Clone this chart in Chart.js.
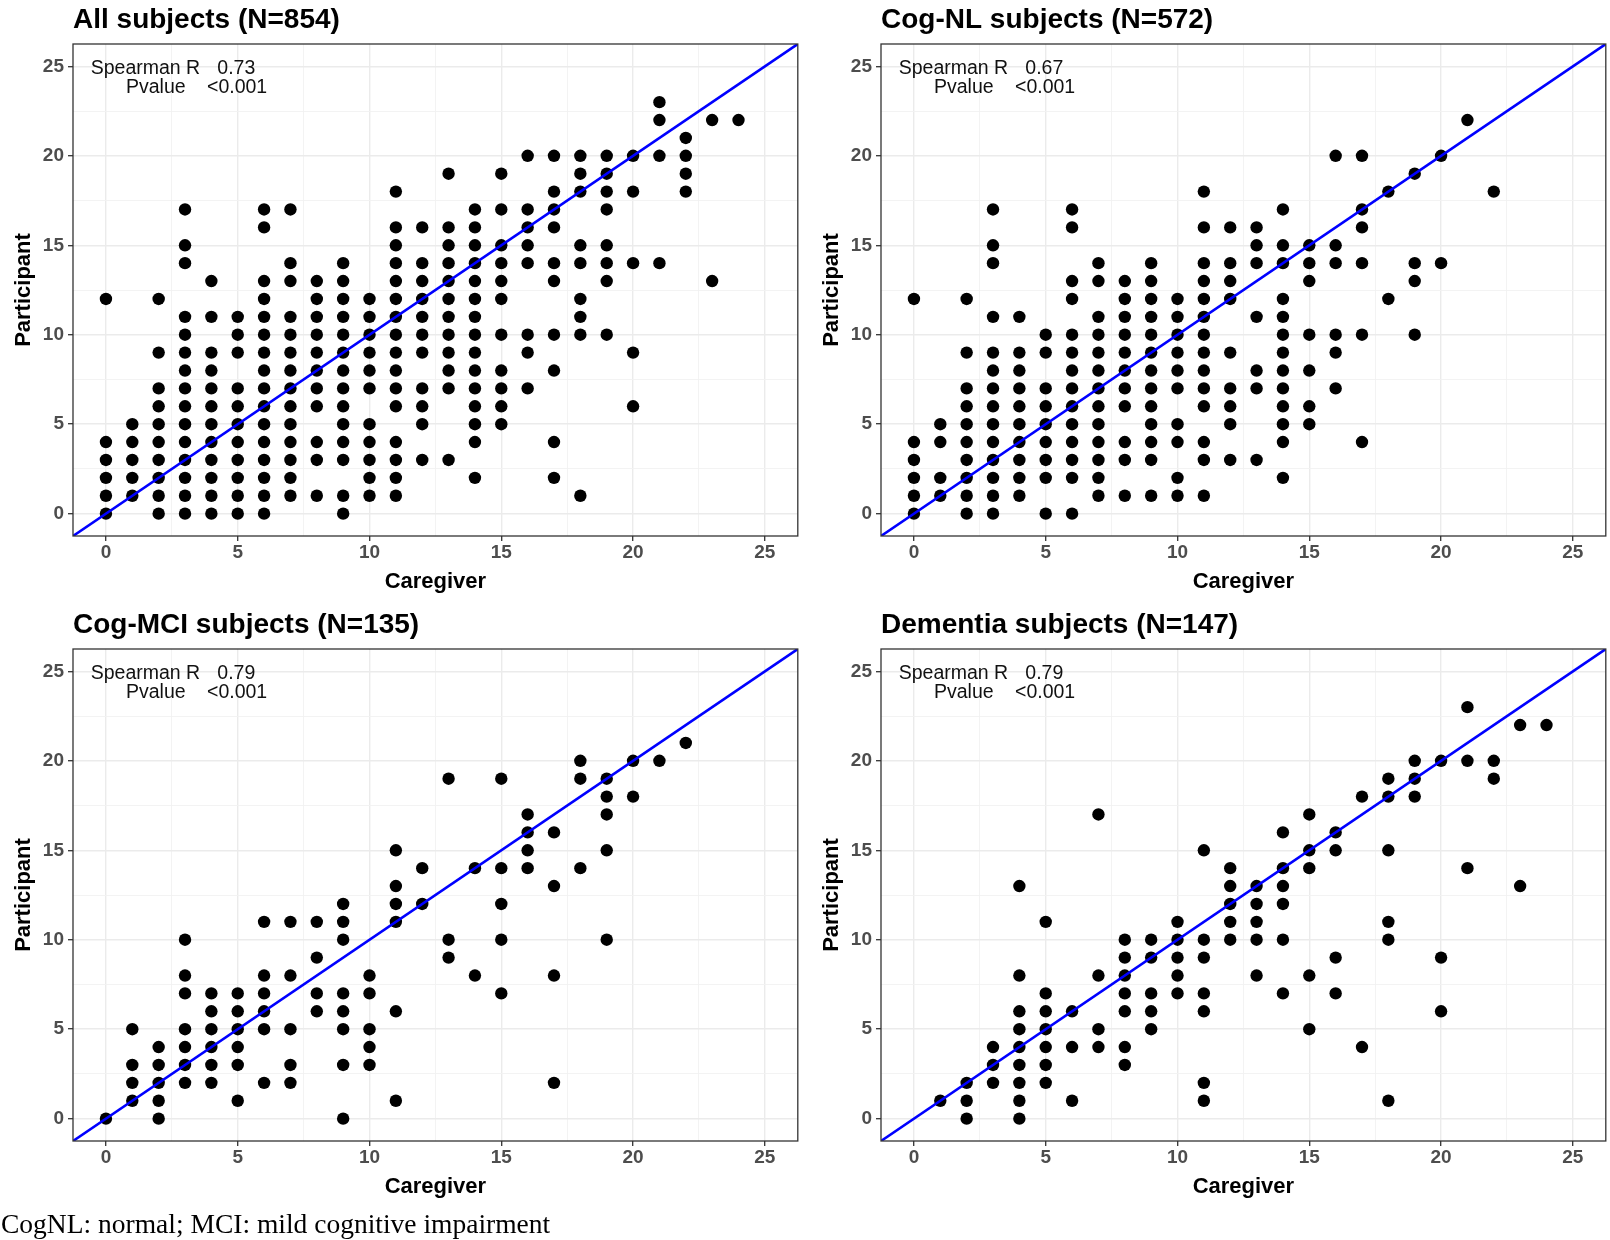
<!DOCTYPE html>
<html>
<head>
<meta charset="utf-8">
<script src="https://cdn.jsdelivr.net/npm/chart.js@4.4.1/dist/chart.umd.min.js"></script>
<style>
  html, body { margin:0; padding:0; background:#fff; width:1610px; height:1240px; overflow:hidden; position:relative; }
  canvas { position:absolute; }
  #note { position:absolute; left:1px; top:1210px; font-family:"Liberation Serif","Times New Roman",serif; font-size:27.5px; line-height:28px; color:#000; white-space:nowrap; }
</style>
</head>
<body>
<canvas id="c0" width="804" height="605" style="left:0px;top:0px"></canvas>
<canvas id="c1" width="804" height="605" style="left:808px;top:0px"></canvas>
<canvas id="c2" width="804" height="605" style="left:0px;top:605px"></canvas>
<canvas id="c3" width="804" height="605" style="left:808px;top:605px"></canvas>
<div id="note">CogNL: normal; MCI: mild cognitive impairment</div>
<script>
// ---------------- data ----------------
const PANEL_TITLES = ['All subjects (N=854)', 'Cog-NL subjects (N=572)', 'Cog-MCI subjects (N=135)', 'Dementia subjects (N=147)'];
const SPEARMAN_R = ['0.73', '0.67', '0.79', '0.79'];
const P_VALUES = ['<0.001', '<0.001', '<0.001', '<0.001'];
const STAT_LABELS = ['Spearman R', 'Pvalue'];
const X_TITLE = 'Caregiver';
const Y_TITLE = 'Participant';
const TICK_VALUES = [0, 5, 10, 15, 20, 25];
const GRID_VALUES = [0, 2.5, 5, 7.5, 10, 12.5, 15, 17.5, 20, 22.5, 25];
const AXIS_MIN = -1.25;
const AXIS_MAX = 26.25;

// caregiver score (index) -> participant scores observed
const CAREGIVER_SCORES = [0,1,2,3,4,5,6,7,8,9,10,11,12,13,14,15,16,17,18,19,20,21,22,23,24];

const ALL_SUBJECTS = [
  [0,1,2,3,4,12],
  [1,2,3,4,5],
  [0,1,2,3,4,5,6,7,9,12],
  [0,1,2,3,4,5,6,7,8,9,10,11,14,15,17],
  [0,1,2,3,4,5,6,7,8,9,11,13],
  [0,1,2,3,4,5,6,7,9,10,11],
  [0,1,2,3,4,5,6,7,8,9,10,11,12,13,16,17],
  [1,2,3,4,5,6,7,8,9,10,11,13,14,17],
  [1,3,4,6,7,8,9,10,11,12,13],
  [0,1,3,4,5,6,7,8,9,10,11,12,13,14],
  [1,2,3,4,5,7,8,9,10,11,12],
  [1,2,3,4,6,7,8,9,10,11,12,13,14,15,16,18],
  [3,5,6,7,9,10,11,12,13,14,16],
  [3,7,8,9,10,11,12,13,14,15,16,19],
  [2,4,5,6,7,8,9,10,11,12,13,14,15,16,17],
  [5,6,7,8,10,12,13,14,15,17,19],
  [7,9,10,14,15,16,17,20],
  [2,4,8,10,13,14,16,17,18,20],
  [1,10,11,12,14,15,18,19,20],
  [10,13,14,15,17,18,19,20],
  [6,9,14,18,20],
  [14,20,22,23],
  [18,19,20,21],
  [13,22],
  [22]
];

const COG_NL = [
  [0,1,2,3,4,12],
  [1,2,4,5],
  [0,1,2,3,4,5,6,7,9,12],
  [0,1,2,3,4,5,6,7,8,9,11,14,15,17],
  [1,2,3,4,5,6,7,8,9,11],
  [0,2,3,4,5,6,7,9,10],
  [0,2,3,4,5,6,7,8,9,10,12,13,16,17],
  [1,2,3,4,5,6,7,8,9,10,11,13,14],
  [1,3,4,6,7,8,9,10,11,12,13],
  [1,3,4,5,6,7,8,9,10,11,12,13,14],
  [1,2,4,5,7,8,9,10,11,12],
  [1,3,4,6,7,8,9,10,11,12,13,14,16,18],
  [3,5,6,7,9,12,13,14,16],
  [3,7,8,11,14,15,16],
  [2,4,5,6,7,8,9,10,11,12,14,15,17],
  [5,6,8,10,13,14,15],
  [7,9,10,14,15,20],
  [4,10,14,16,17,20],
  [12,18],
  [10,13,14,19],
  [14,20],
  [22],
  [18],
  [],
  []
];

const COG_MCI = [
  [0],
  [1,2,3,5],
  [0,1,2,3,4],
  [2,3,4,5,7,8,10],
  [2,3,4,5,6,7],
  [1,3,4,5,6,7],
  [2,5,6,7,8,11],
  [2,3,5,8,11],
  [6,7,9,11],
  [0,3,5,6,7,10,11,12],
  [3,4,5,7,8],
  [1,6,11,12,13,15],
  [12,14],
  [9,10,19],
  [8,14],
  [7,10,12,14,19],
  [14,15,16,17],
  [2,8,13,16],
  [14,19,20],
  [10,15,17,18,19],
  [18,20],
  [20],
  [21],
  [],
  []
];

const DEMENTIA = [
  [],
  [1],
  [0,1,2],
  [2,3,4],
  [0,1,2,3,4,5,6,8,13],
  [2,3,4,5,6,7,11],
  [1,4,6],
  [4,5,8,17],
  [3,4,6,7,8,9,10],
  [5,6,7,9,10],
  [7,8,9,10,11],
  [1,2,6,7,9,10,15],
  [10,11,12,13,14],
  [8,10,11,12,13],
  [7,10,12,13,14,16],
  [5,8,14,15,17],
  [7,9,15,16],
  [4,18],
  [1,10,11,15,18,19],
  [18,19,20],
  [6,9,20],
  [14,20,23],
  [19,20],
  [13,22],
  [22]
];

const PANEL_DATA = [ALL_SUBJECTS, COG_NL, COG_MCI, DEMENTIA];

// ---------------- drawing ----------------
const FONT = '"Liberation Sans", Arial, Helvetica, sans-serif';

function buildPoints(byCaregiver) {
  const pts = [];
  byCaregiver.forEach((ys, i) => ys.forEach(y => pts.push({ x: CAREGIVER_SCORES[i], y: y })));
  return pts;
}

function isMajor(tick) {
  return tick && TICK_VALUES.includes(tick.value);
}

const panelDecor = {
  id: 'panelDecor',
  afterDraw(chart, args, opts) {
    const ctx = chart.ctx;
    const a = chart.chartArea;
    ctx.save();
    // panel border
    ctx.strokeStyle = '#333333';
    ctx.lineWidth = 1.3;
    ctx.strokeRect(a.left, a.top, a.right - a.left, a.bottom - a.top);
    // statistics annotation
    ctx.fillStyle = '#111111';
    ctx.font = '19.5px ' + FONT;
    ctx.textAlign = 'left';
    ctx.textBaseline = 'alphabetic';
    ctx.fillText(STAT_LABELS[0], a.left + 17.7, a.top + 30);
    ctx.fillText(opts.r, a.left + 144.3, a.top + 30);
    ctx.fillText(STAT_LABELS[1], a.left + 53, a.top + 48.7);
    ctx.fillText(opts.p, a.left + 134, a.top + 48.7);
    ctx.restore();
  }
};

function axisConfig(titleText, isX) {
  return {
    type: 'linear',
    position: isX ? 'bottom' : 'left',
    min: AXIS_MIN,
    max: AXIS_MAX,
    afterBuildTicks: s => { s.ticks = GRID_VALUES.map(v => ({ value: v })); },
    afterFit: s => { if (isX) { s.height = 69; } else { s.width = 73; } },
    grid: {
      color: c => isMajor(c.tick) ? '#EBEBEB' : '#F2F2F2',
      lineWidth: c => isMajor(c.tick) ? 1.4 : 0.9,
      drawTicks: true,
      tickLength: 5,
      tickColor: c => isMajor(c.tick) ? '#333333' : 'rgba(0,0,0,0)',
      tickWidth: 1.3
    },
    border: { display: false },
    ticks: {
      autoSkip: false,
      maxRotation: 0,
      minRotation: 0,
      padding: isX ? 0 : 4,
      color: '#4D4D4D',
      font: { family: FONT, size: 19, weight: 'bold' },
      callback: v => TICK_VALUES.includes(v) ? String(v) : ''
    },
    title: {
      display: true,
      text: titleText,
      color: '#000000',
      font: { family: FONT, size: 22, weight: 'bold' },
      padding: isX ? { top: 0, bottom: 10 } : { top: 11, bottom: 0 }
    }
  };
}

function makePanel(idx) {
  const ctx = document.getElementById('c' + idx).getContext('2d');
  return new Chart(ctx, {
    type: 'scatter',
    data: {
      datasets: [
        {
          type: 'line',
          label: 'identity',
          data: [{ x: AXIS_MIN, y: AXIS_MIN }, { x: AXIS_MAX, y: AXIS_MAX }],
          borderColor: '#0000FF',
          borderWidth: 2.6,
          pointRadius: 0,
          fill: false,
          order: 0
        },
        {
          type: 'scatter',
          label: 'subjects',
          data: buildPoints(PANEL_DATA[idx]),
          pointRadius: 6.2,
          pointBackgroundColor: '#000000',
          pointBorderWidth: 0,
          pointBorderColor: '#000000',
          order: 1
        }
      ]
    },
    options: {
      responsive: false,
      animation: false,
      devicePixelRatio: 1,
      events: [],
      layout: { padding: { left: 0, right: 2, top: 0, bottom: 0 } },
      scales: {
        x: axisConfig(X_TITLE, true),
        y: axisConfig(Y_TITLE, false)
      },
      plugins: {
        legend: { display: false },
        tooltip: { enabled: false },
        title: {
          display: true,
          text: PANEL_TITLES[idx],
          align: 'start',
          fullSize: false,
          color: '#000000',
          font: { family: FONT, size: 28, weight: 'bold' },
          padding: { top: 3, bottom: 7.4 }
        },
        panelDecor: { r: SPEARMAN_R[idx], p: P_VALUES[idx] }
      }
    },
    plugins: [panelDecor]
  });
}

[0, 1, 2, 3].forEach(makePanel);
</script>
</body>
</html>
